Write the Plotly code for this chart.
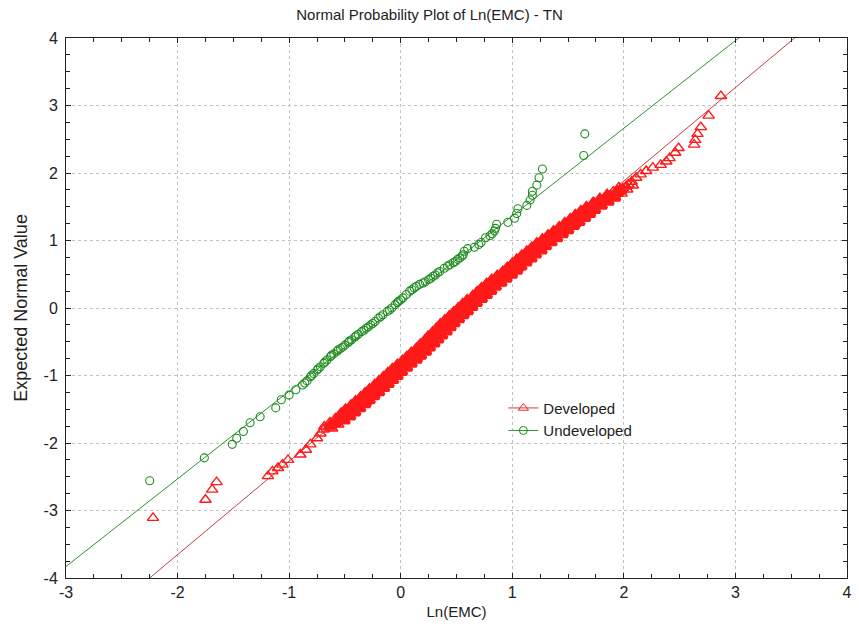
import numpy as np
import plotly.graph_objects as go

# Normal probability plot of Ln(EMC) for total nitrogen, by land use.

# Developed sites: sorted Ln(EMC) values and their expected normal scores
DEV_X = [
    # lower tail
    -2.22, -1.75, -1.69, -1.65, -1.19, -1.15, -1.10, -1.06, -1.01, -0.90,
    -0.85, -0.81, -0.75, -0.72,
    # central body
    -0.69, -0.64, -0.63, -0.59, -0.58, -0.54, -0.53, -0.49, -0.48, -0.45,
    -0.44, -0.40, -0.39, -0.36, -0.35, -0.32, -0.30, -0.29, -0.25, -0.25,
    -0.21, -0.20, -0.17, -0.16, -0.13, -0.12, -0.09, -0.08, -0.05, -0.04,
    -0.01, 0.01, 0.03, 0.05, 0.08, 0.09, 0.12, 0.13, 0.16, 0.18,
    0.20, 0.21, 0.24, 0.25, 0.28, 0.28, 0.31, 0.32, 0.35, 0.36,
    0.38, 0.40, 0.41, 0.44, 0.45, 0.48, 0.49, 0.52, 0.53, 0.56,
    0.57, 0.60, 0.61, 0.64, 0.65, 0.69, 0.70, 0.73, 0.74, 0.77,
    0.78, 0.81, 0.83, 0.86, 0.87, 0.91, 0.92, 0.96, 0.97, 1.00,
    1.01, 1.04, 1.06, 1.08, 1.10, 1.13, 1.14, 1.17, 1.19, 1.22,
    1.23, 1.26, 1.28, 1.31, 1.33, 1.36, 1.38, 1.41, 1.43, 1.46,
    1.48, 1.51, 1.53, 1.56, 1.58, 1.61, 1.62, 1.66, 1.67, 1.70,
    1.73, 1.76, 1.79, 1.82, 1.85, 1.88, 1.92, 1.94, 1.97, 1.99,
    2.02, 2.04,
    -0.615, -0.685, -0.56, -0.635, -0.51, -0.585, -0.46, -0.535, -0.415, -0.495,
    -0.37, -0.445, -0.325, -0.405, -0.285, -0.36, -0.245, -0.32, -0.20, -0.28,
    -0.155, -0.235, -0.115, -0.195, -0.075, -0.155, -0.035, -0.115, 0.005, -0.075,
    0.05, -0.03, 0.09, 0.015, 0.135, 0.055, 0.175, 0.095, 0.22, 0.14,
    0.255, 0.175, 0.295, 0.215, 0.33, 0.245, 0.365, 0.285, 0.405, 0.32,
    0.44, 0.355, 0.475, 0.395, 0.515, 0.435, 0.555, 0.475, 0.595, 0.515,
    0.635, 0.555, 0.675, 0.595, 0.72, 0.645, 0.765, 0.685, 0.805, 0.725,
    0.845, 0.77, 0.895, 0.815, 0.94, 0.865, 0.99, 0.915, 1.035, 0.955,
    1.075, 1.00, 1.12, 1.04, 1.165, 1.085, 1.205, 1.13, 1.255, 1.175,
    1.295, 1.22, 1.345, 1.27, 1.395, 1.32, 1.445, 1.37, 1.495, 1.42,
    1.545, 1.47, 1.595, 1.52, 1.645, 1.565, 1.69, 1.615, 1.735, 1.665,
    1.795, 1.725, 1.855, 1.785, 1.915, 1.85, 1.98, 1.905, 2.03, 1.955,
    2.08,
    -0.483, -0.485, -0.414, -0.413, -0.313, -0.315, -0.242, -0.249, -0.179, -0.181,
    -0.086, -0.088, -0.016, -0.023, 0.048, 0.048, 0.145, 0.145, 0.217, 0.205,
    0.270, 0.263, 0.354, 0.347, 0.415, 0.403, 0.469, 0.467, 0.563, 0.561,
    0.634, 0.628, 0.700, 0.699, 0.797, 0.796, 0.874, 0.872, 0.947, 0.950,
    1.049, 1.048, 1.123, 1.118, 1.189, 1.189, 1.288, 1.294, 1.375, 1.377,
    1.455, 1.460, 1.562, 1.566, 1.645, 1.644, 1.722, 1.737, 1.850,
    # upper tail
    2.07, 2.11, 2.15, 2.20, 2.26, 2.33, 2.38, 2.41, 2.46, 2.49,
    2.63, 2.64, 2.66, 2.69, 2.76, 2.87,
]
DEV_Y = [
    -3.11, -2.84, -2.69, -2.58, -2.49, -2.42, -2.37, -2.32, -2.25, -2.17,
    -2.10, -2.02, -1.93, -1.86,
    -1.80, -1.77, -1.74, -1.71, -1.68, -1.65, -1.62, -1.59, -1.56, -1.53,
    -1.50, -1.47, -1.44, -1.41, -1.38, -1.35, -1.32, -1.29, -1.26, -1.23,
    -1.20, -1.17, -1.14, -1.11, -1.08, -1.05, -1.02, -0.99, -0.96, -0.93,
    -0.90, -0.87, -0.84, -0.81, -0.78, -0.75, -0.72, -0.69, -0.66, -0.63,
    -0.60, -0.57, -0.54, -0.51, -0.48, -0.45, -0.42, -0.39, -0.36, -0.33,
    -0.30, -0.27, -0.24, -0.21, -0.18, -0.15, -0.12, -0.09, -0.06, -0.03,
    0.00, 0.03, 0.06, 0.09, 0.12, 0.15, 0.18, 0.21, 0.24, 0.27,
    0.30, 0.33, 0.36, 0.39, 0.42, 0.45, 0.48, 0.51, 0.54, 0.57,
    0.60, 0.63, 0.66, 0.69, 0.72, 0.75, 0.78, 0.81, 0.84, 0.87,
    0.90, 0.93, 0.96, 0.99, 1.02, 1.05, 1.08, 1.11, 1.14, 1.17,
    1.20, 1.23, 1.26, 1.29, 1.32, 1.35, 1.38, 1.41, 1.44, 1.47,
    1.50, 1.53, 1.56, 1.59, 1.62, 1.65, 1.68, 1.71, 1.74, 1.77,
    1.80, 1.83,
    -1.785, -1.755, -1.725, -1.695, -1.665, -1.635, -1.605, -1.575, -1.545, -1.515,
    -1.485, -1.455, -1.425, -1.395, -1.365, -1.335, -1.305, -1.275, -1.245, -1.215,
    -1.185, -1.155, -1.125, -1.095, -1.065, -1.035, -1.005, -0.975, -0.945, -0.915,
    -0.885, -0.855, -0.825, -0.795, -0.765, -0.735, -0.705, -0.675, -0.645, -0.615,
    -0.585, -0.555, -0.525, -0.495, -0.465, -0.435, -0.405, -0.375, -0.345, -0.315,
    -0.285, -0.255, -0.225, -0.195, -0.165, -0.135, -0.105, -0.075, -0.045, -0.015,
    0.015, 0.045, 0.075, 0.105, 0.135, 0.165, 0.195, 0.225, 0.255, 0.285,
    0.315, 0.345, 0.375, 0.405, 0.435, 0.465, 0.495, 0.525, 0.555, 0.585,
    0.615, 0.645, 0.675, 0.705, 0.735, 0.765, 0.795, 0.825, 0.855, 0.885,
    0.915, 0.945, 0.975, 1.005, 1.035, 1.065, 1.095, 1.125, 1.155, 1.185,
    1.215, 1.245, 1.275, 1.305, 1.335, 1.365, 1.395, 1.425, 1.455, 1.485,
    1.515, 1.545, 1.575, 1.605, 1.635, 1.665, 1.695, 1.725, 1.755, 1.785,
    1.815,
    -1.600, -1.545, -1.490, -1.435, -1.380, -1.325, -1.270, -1.215, -1.160, -1.105,
    -1.050, -0.995, -0.940, -0.885, -0.830, -0.775, -0.720, -0.665, -0.610, -0.555,
    -0.500, -0.445, -0.390, -0.335, -0.280, -0.225, -0.170, -0.115, -0.060, -0.005,
    0.050, 0.105, 0.160, 0.215, 0.270, 0.325, 0.380, 0.435, 0.490, 0.545,
    0.600, 0.655, 0.710, 0.765, 0.820, 0.875, 0.930, 0.985, 1.040, 1.095,
    1.150, 1.205, 1.260, 1.315, 1.370, 1.425, 1.480, 1.535, 1.590,
    1.87, 1.93, 1.98, 2.03, 2.08, 2.12, 2.17, 2.22, 2.30, 2.37,
    2.42, 2.49, 2.58, 2.68, 2.85, 3.14,
]

# Undeveloped sites
UND_X = [
    -2.25, -1.76, -1.51, -1.47, -1.41, -1.35, -1.26, -1.12, -1.07, -1.00,
    -0.94, -0.88, -0.84, -0.81, -0.78, -0.75, -0.72, -0.69, -0.66, -0.63,
    -0.60, -0.57, -0.54, -0.50, -0.47, -0.44, -0.41, -0.38, -0.35, -0.31,
    -0.27, -0.23, -0.20, -0.16, -0.12, -0.08, -0.05, -0.02, 0.02, 0.05,
    0.08, 0.12, 0.17, 0.22, 0.27, 0.31, 0.35, 0.39, 0.44, 0.49,
    0.53, 0.56, 0.57, 0.60, 0.66, 0.72, 0.76, 0.82, 0.85, 0.86,
    0.96, 1.02, 1.04, 1.05, 1.13, 1.16, 1.18, 1.18, 1.22, 1.24,
    1.27, 1.64, 1.65,
    -0.86, -0.80, -0.74, -0.68, -0.62, -0.56, -0.52, -0.46, -0.40, -0.33,
    -0.29, -0.25, -0.18, -0.10, -0.03, 0.00, 0.10, 0.14, 0.20, 0.25,
    0.29, 0.33, 0.42, 0.47, 0.51, 0.55, 0.70, 0.80, 0.84,
]
UND_Y = [
    -2.56, -2.22, -2.02, -1.93, -1.83, -1.70, -1.61, -1.48, -1.36, -1.29,
    -1.21, -1.14, -1.08, -1.02, -0.97, -0.92, -0.87, -0.82, -0.77, -0.72,
    -0.68, -0.64, -0.60, -0.55, -0.51, -0.47, -0.43, -0.39, -0.35, -0.30,
    -0.25, -0.20, -0.15, -0.10, -0.05, 0.00, 0.05, 0.10, 0.15, 0.20,
    0.25, 0.30, 0.35, 0.39, 0.44, 0.49, 0.54, 0.59, 0.64, 0.69,
    0.74, 0.79, 0.84, 0.88, 0.90, 0.97, 1.04, 1.10, 1.18, 1.24,
    1.27, 1.33, 1.40, 1.47, 1.52, 1.60, 1.67, 1.73, 1.82, 1.93,
    2.06, 2.26, 2.58,
    -1.11, -1.00, -0.90, -0.80, -0.70, -0.62, -0.58, -0.49, -0.41, -0.33,
    -0.28, -0.23, -0.13, -0.03, 0.08, 0.12, 0.27, 0.32, 0.37, 0.42,
    0.47, 0.52, 0.62, 0.67, 0.72, 0.77, 0.94, 1.07, 1.14,
]

# Reference lines (slope, intercept) for each group
DEV_FIT = (1.384, -0.886)
UND_FIT = (1.2985, 0.066)

X_RANGE = [-3, 4]
Y_RANGE = [-4, 4]
X_TICKS = [-3, -2, -1, 0, 1, 2, 3, 4]
Y_TICKS = [-4, -3, -2, -1, 0, 1, 2, 3, 4]

RED_MARK = "#ff1a1a"
RED_LINE = "#c83c3c"
GREEN_MARK = "#1e8c1e"
GREEN_LINE = "#2f8f2f"
INK = "#222222"


def fit_line(fit):
    slope, icpt = fit
    xs = list(X_RANGE)
    return xs, [slope * x + icpt for x in xs]


def stroke_widths(xs, ys, thin, thick, radius=0.09, crowd=8):
    """Heavier outlines where markers pile up, so the crowded body reads as solid."""
    px = np.asarray(xs)
    py = np.asarray(ys)
    d = np.hypot(px[:, None] - px[None, :], py[:, None] - py[None, :])
    n = (d < radius).sum(axis=1) - 1
    return np.where(n >= crowd, thick, thin).tolist()


fig = go.Figure()

lx, ly = fit_line(DEV_FIT)
fig.add_trace(go.Scatter(x=lx, y=ly, mode="lines", showlegend=False,
                         line=dict(color=RED_LINE, width=1)))
lx, ly = fit_line(UND_FIT)
fig.add_trace(go.Scatter(x=lx, y=ly, mode="lines", showlegend=False,
                         line=dict(color=GREEN_LINE, width=1)))

fig.add_trace(go.Scatter(
    x=DEV_X, y=DEV_Y, mode="markers", showlegend=False, cliponaxis=False,
    marker=dict(symbol="triangle-up-open", size=10, color=RED_MARK,
                line=dict(width=stroke_widths(DEV_X, DEV_Y, 1.4, 3.2),
                          color=RED_MARK)),
))
fig.add_trace(go.Scatter(
    x=UND_X, y=UND_Y, mode="markers", showlegend=False, cliponaxis=False,
    marker=dict(symbol="circle-open", size=8, color=GREEN_MARK,
                line=dict(width=1.1, color=GREEN_MARK)),
))

# legend entries: line with marker, as for each series
fig.add_trace(go.Scatter(
    x=[None], y=[None], mode="lines+markers", name="Developed",
    line=dict(color=RED_LINE, width=1),
    marker=dict(symbol="triangle-up-open", size=9, color=RED_MARK),
))
fig.add_trace(go.Scatter(
    x=[None], y=[None], mode="lines+markers", name="Undeveloped",
    line=dict(color=GREEN_LINE, width=1),
    marker=dict(symbol="circle-open", size=8, color=GREEN_MARK),
))

axis_common = dict(
    showline=True, linecolor=INK, linewidth=1, mirror="allticks",
    ticks="inside", ticklen=5, tickcolor=INK, tickmode="array",
    showgrid=True, gridcolor="#c2c2c2", griddash="dot", gridwidth=1,
    zeroline=False,
    tickfont=dict(size=16, color=INK),
    minor=dict(dtick=0.25, tick0=0, ticks="inside", ticklen=4, tickcolor=INK,
               showgrid=False),
)

fig.update_xaxes(range=X_RANGE, tickvals=X_TICKS, ticktext=[str(v) for v in X_TICKS],
                 title=dict(text="Ln(EMC)", standoff=6, font=dict(size=15, color=INK)),
                 **axis_common)
fig.update_yaxes(range=Y_RANGE, tickvals=Y_TICKS, ticktext=[str(v) for v in Y_TICKS],
                 ticklabelstandoff=4,
                 title=dict(text="Expected Normal Value", standoff=11,
                            font=dict(size=18, color=INK)),
                 **axis_common)

fig.update_layout(
    width=859, height=638,
    margin=dict(l=66, r=7, t=38, b=60),
    paper_bgcolor="white", plot_bgcolor="white",
    font=dict(family="Liberation Sans, Arial, sans-serif", color=INK),
    title=dict(text="Normal Probability Plot of Ln(EMC) - TN", x=0.5, xanchor="center",
               y=0.985, yanchor="top", font=dict(size=15, color=INK)),
    legend=dict(x=0.56, y=0.345, xanchor="left", yanchor="top",
                bgcolor="rgba(0,0,0,0)", font=dict(size=15, color=INK),
                itemwidth=30, tracegroupgap=0),
    showlegend=True,
)

fig.write_html("out.html")
